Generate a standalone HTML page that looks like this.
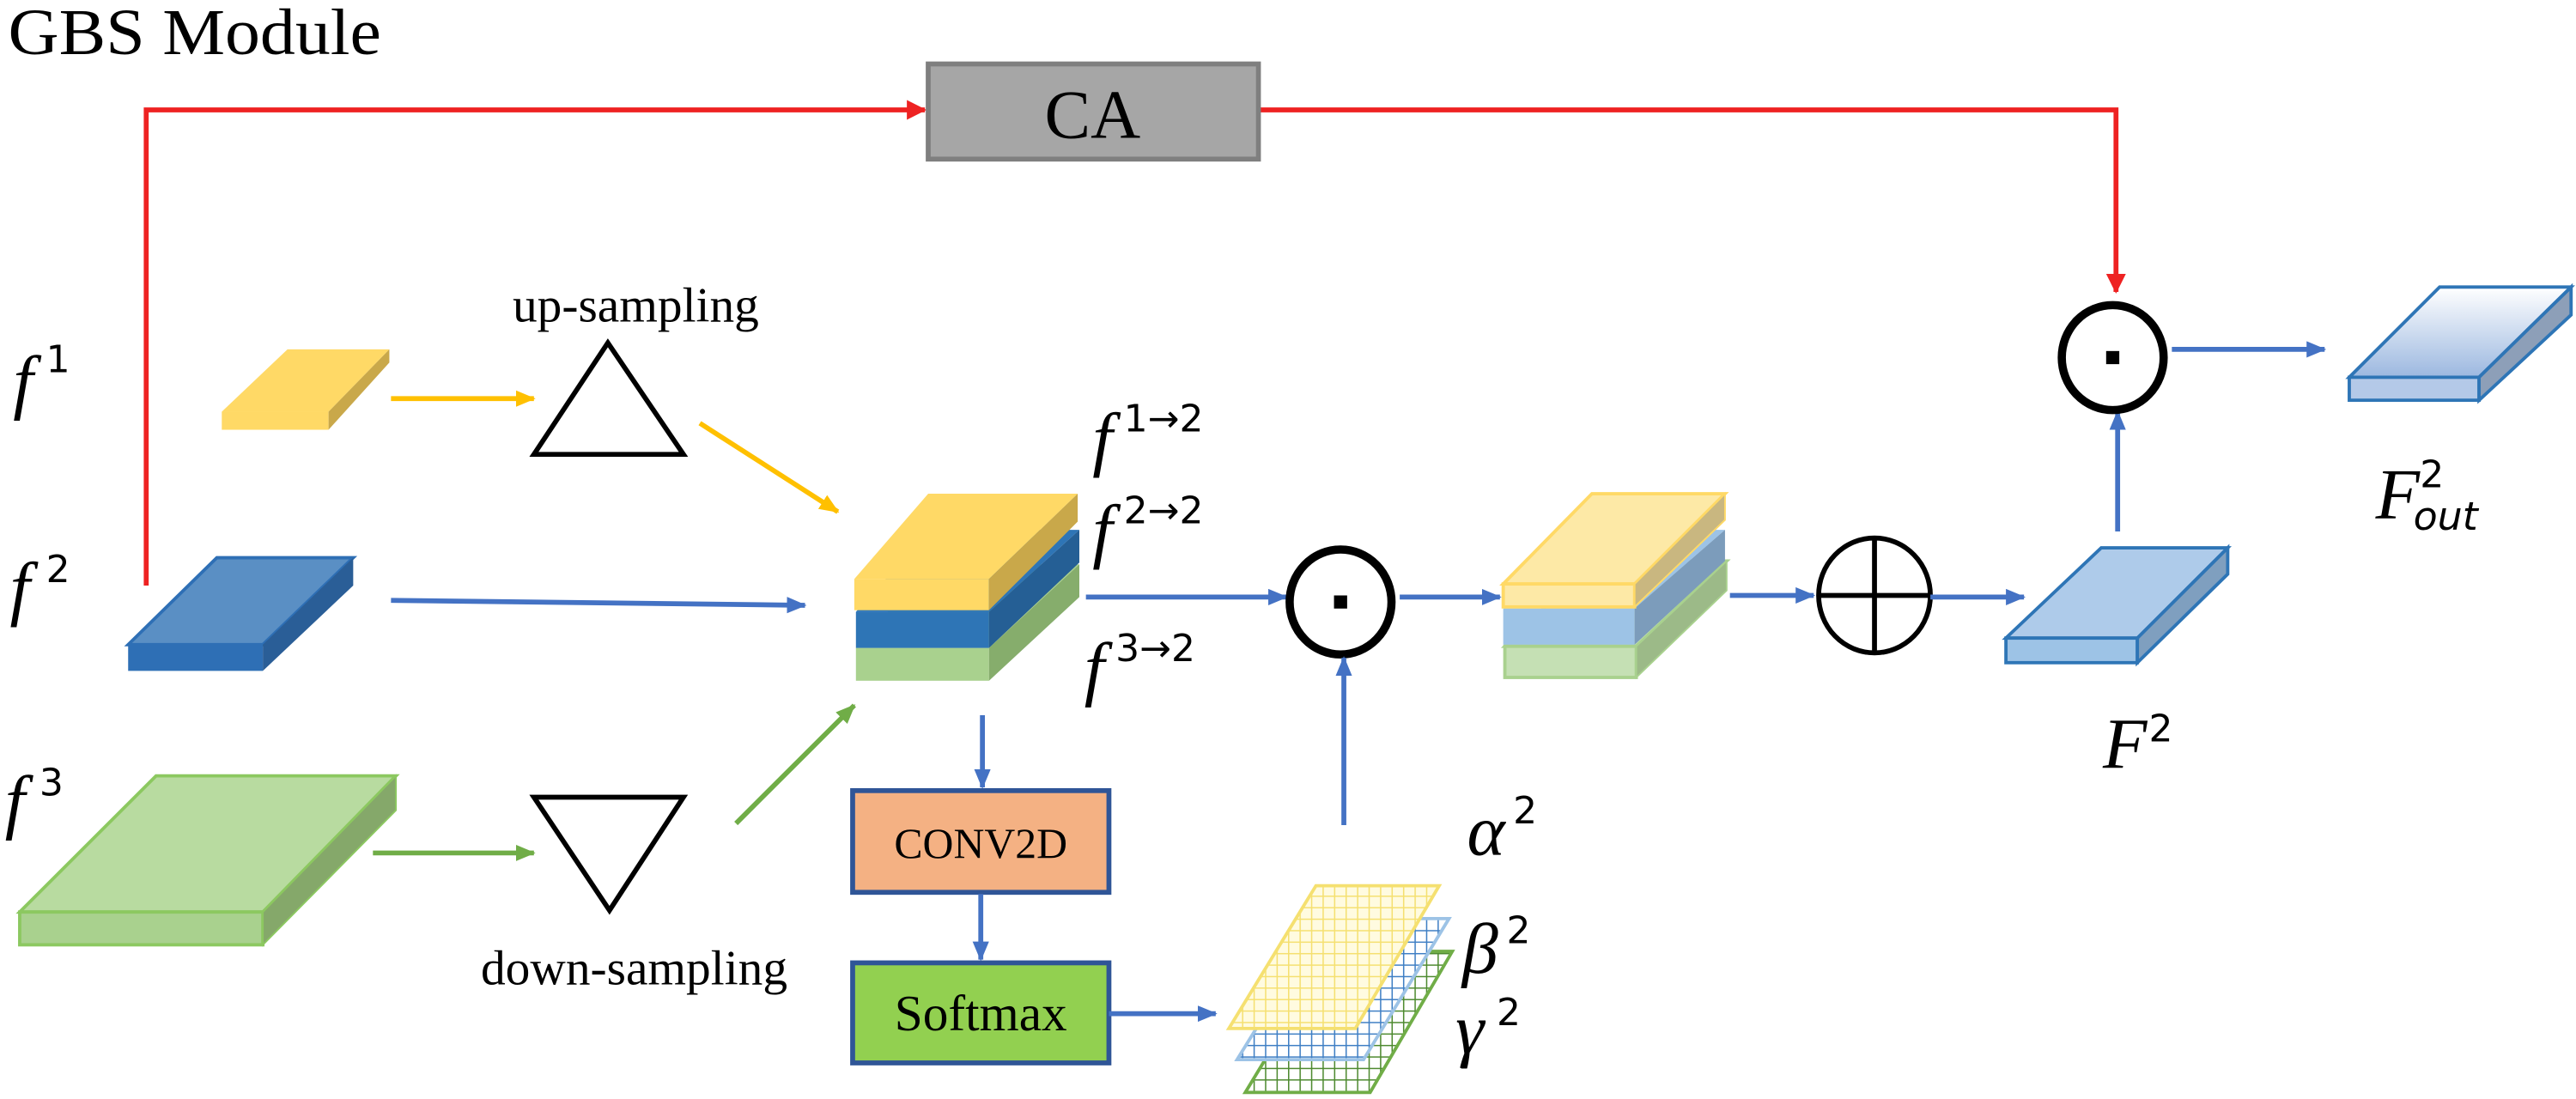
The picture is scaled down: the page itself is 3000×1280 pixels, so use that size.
<!DOCTYPE html>
<html><head><meta charset="utf-8"><style>html,body{margin:0;padding:0;background:#fff}svg{display:block}
.ser{font-family:"Liberation Serif",serif}
.it{font-family:"Liberation Serif",serif;font-style:italic}
.sup{font-family:"DejaVu Sans",sans-serif}
</style></head>
<body>
<svg width="3000" height="1280" viewBox="0 0 1568 670" preserveAspectRatio="none" xmlns="http://www.w3.org/2000/svg">
<defs>
<marker id="ab" markerWidth="12" markerHeight="10" refX="11" refY="5" orient="auto" markerUnits="userSpaceOnUse"><path d="M0,0 L12,5 L0,10z" fill="#4472c4"/></marker>
<marker id="ar" markerWidth="12" markerHeight="12" refX="11" refY="6" orient="auto" markerUnits="userSpaceOnUse"><path d="M0,0 L12,6 L0,12z" fill="#ee2222"/></marker>
<marker id="ay" markerWidth="12" markerHeight="10" refX="11" refY="5" orient="auto" markerUnits="userSpaceOnUse"><path d="M0,0 L12,5 L0,10z" fill="#ffc000"/></marker>
<marker id="ag" markerWidth="12" markerHeight="10" refX="11" refY="5" orient="auto" markerUnits="userSpaceOnUse"><path d="M0,0 L12,5 L0,10z" fill="#70ad47"/></marker>
<pattern id="gy" width="7" height="7" patternUnits="userSpaceOnUse"><rect width="7" height="7" fill="#fffbe0"/><path d="M0,0H7M0,0V7" stroke="#f5e070" stroke-width="1.6"/></pattern>
<pattern id="gb" width="7" height="7" patternUnits="userSpaceOnUse"><rect width="7" height="7" fill="#fff"/><path d="M0,0H7M0,0V7" stroke="#3f7fc4" stroke-width="1.6"/></pattern>
<pattern id="gg" width="7" height="7" patternUnits="userSpaceOnUse"><rect width="7" height="7" fill="#fff"/><path d="M0,0H7M0,0V7" stroke="#4e8a30" stroke-width="1.6"/></pattern>
<linearGradient id="fo" x1="0" y1="0" x2="0" y2="1"><stop offset="0" stop-color="#ffffff"/><stop offset="1" stop-color="#9cb8e0"/></linearGradient>
</defs>
<text x="5" y="33" class="ser" font-size="40" textLength="227" lengthAdjust="spacingAndGlyphs">GBS Module</text>
<polyline points="89,357 89,67 563,67" fill="none" stroke="#ee2222" stroke-width="3" marker-end="url(#ar)"/>
<polyline points="766,67 1288,67 1288,178" fill="none" stroke="#ee2222" stroke-width="3" marker-end="url(#ar)"/>
<rect x="565" y="39" width="201" height="58" fill="#a6a6a6" stroke="#7f7f7f" stroke-width="3"/>
<text x="665" y="84" class="ser" font-size="42" text-anchor="middle">CA</text>

<g class="it" font-size="44">
<text x="8" y="247">f</text><text x="6" y="373">f</text><text x="3" y="503">f</text>
<text x="665" y="282">f</text><text x="665" y="338">f</text><text x="660" y="422">f</text>
<text x="893" y="521">α</text><text x="890" y="593">β</text><text x="886" y="642">γ</text>
<text x="1280" y="468">F</text><text x="1446" y="316">F</text>
</g>
<g class="sup" font-size="23">
<text x="28" y="227">1</text><text x="28" y="355">2</text><text x="24" y="485">3</text>
<text x="684" y="263">1→2</text><text x="684" y="319">2→2</text><text x="679" y="403">3→2</text>
<text x="921" y="502">2</text><text x="917" y="575">2</text><text x="911" y="625">2</text>
<text x="1308" y="452">2</text><text x="1473" y="297">2</text>
<text x="1469" y="323" font-style="italic" font-size="24">out</text>
</g>
<text x="387" y="196" class="ser" font-size="30" text-anchor="middle">up-sampling</text>
<text x="386" y="600" class="ser" font-size="30" text-anchor="middle">down-sampling</text>

<polygon points="135,251 175,213 237,213 200,251" fill="#ffd966"/>
<rect x="135" y="251" width="65" height="11" fill="#ffd966"/>
<polygon points="200,251 237,213 237,221 200,262" fill="#c9a84a"/>
<line x1="238" y1="243" x2="325" y2="243" stroke="#ffc000" stroke-width="3" marker-end="url(#ay)"/>
<polygon points="325,277 370,209 416,277" fill="none" stroke="#000" stroke-width="3"/>
<line x1="426" y1="258" x2="510" y2="312" stroke="#ffc000" stroke-width="3" marker-end="url(#ay)"/>

<polygon points="78,393 132,340 215,340 160,393" fill="#5a8fc4" stroke="#2e6fb5" stroke-width="2"/>
<rect x="78" y="393" width="82" height="16" fill="#2e6fb5"/>
<polygon points="160,393 215,340 215,357 160,409" fill="#2a5e97"/>
<line x1="238" y1="366" x2="490" y2="369" stroke="#4472c4" stroke-width="3" marker-end="url(#ab)"/>

<polygon points="12,556 95,473 241,473 160,556" fill="#b8dba0" stroke="#8cc860" stroke-width="2"/>
<rect x="12" y="556" width="148" height="20" fill="#a9d18e" stroke="#8cc860" stroke-width="2"/>
<polygon points="160,556 241,473 241,494 160,576" fill="#85a86a" stroke="#8cc860" stroke-width="1"/>
<line x1="227" y1="520" x2="325" y2="520" stroke="#70ad47" stroke-width="3" marker-end="url(#ag)"/>
<polygon points="325,486 416,486 371,555" fill="none" stroke="#000" stroke-width="3"/>
<line x1="448" y1="502" x2="520" y2="430" stroke="#70ad47" stroke-width="3" marker-end="url(#ag)"/>

<polygon points="521,395 566,344 657,344 602,395" fill="#a9d18e"/>
<rect x="521" y="395" width="81" height="20" fill="#a9d18e"/>
<polygon points="602,395 657,344 657,364 602,415" fill="#86ad6c"/>
<polygon points="521,373 566,323 657,323 602,373" fill="#2e75b6"/>
<rect x="521" y="373" width="81" height="22" fill="#2e75b6"/>
<polygon points="602,373 657,323 657,343 602,395" fill="#255f95"/>
<polygon points="520,353 565,301 656,301 602,353" fill="#ffd966"/>
<rect x="520" y="353" width="82" height="19" fill="#ffd966"/>
<polygon points="602,353 656,301 656,318 602,372" fill="#c9a84a"/>
<line x1="661" y1="364" x2="783" y2="364" stroke="#4472c4" stroke-width="3" marker-end="url(#ab)"/>
<line x1="598" y1="436" x2="598" y2="480" stroke="#4472c4" stroke-width="3" marker-end="url(#ab)"/>
<rect x="519" y="482" width="156" height="62" fill="#f4b183" stroke="#2f5597" stroke-width="3"/>
<text x="597" y="523" class="ser" font-size="26" text-anchor="middle">CONV2D</text>
<line x1="597" y1="545" x2="597" y2="585" stroke="#4472c4" stroke-width="3" marker-end="url(#ab)"/>
<rect x="519" y="587" width="156" height="61" fill="#92d050" stroke="#2f5597" stroke-width="3"/>
<text x="597" y="628" class="ser" font-size="31" text-anchor="middle">Softmax</text>
<line x1="675" y1="618" x2="740" y2="618" stroke="#4472c4" stroke-width="3" marker-end="url(#ab)"/>

<polygon points="758,666 810,580 884,580 834,666" fill="url(#gg)" stroke="#70ad47" stroke-width="2"/>
<polygon points="753,646 806,560 882,560 830,646" fill="url(#gb)" stroke="#9dc3e6" stroke-width="2"/>
<polygon points="748,627 801,540 876,540 825,627" fill="url(#gy)" stroke="#f5e070" stroke-width="2"/>

<ellipse cx="816" cy="367" rx="31" ry="32" fill="#fff" stroke="#000" stroke-width="5"/>
<rect x="812" y="363" width="8" height="8" fill="#000"/>
<line x1="818" y1="503" x2="818" y2="401" stroke="#4472c4" stroke-width="3" marker-end="url(#ab)"/>
<line x1="852" y1="364" x2="913" y2="364" stroke="#4472c4" stroke-width="3" marker-end="url(#ab)"/>

<polygon points="916,394 969,342 1051,342 996,394" fill="#c5e0b4" stroke="#a9d18e" stroke-width="2"/>
<rect x="916" y="394" width="80" height="19" fill="#c5e0b4" stroke="#a9d18e" stroke-width="2"/>
<polygon points="996,394 1051,342 1051,360 996,413" fill="#9cba88" stroke="#a9d18e" stroke-width="1"/>
<polygon points="915,371 969,323 1050,323 995,371" fill="#9dc3e6"/>
<rect x="915" y="371" width="80" height="22" fill="#9dc3e6"/>
<polygon points="995,371 1050,323 1050,342 995,393" fill="#7c9cbb"/>
<polygon points="915,356 969,301 1050,301 995,356" fill="#fde9a6" stroke="#ffd966" stroke-width="2"/>
<rect x="915" y="356" width="80" height="14" fill="#fde9a6" stroke="#ffd966" stroke-width="2"/>
<polygon points="995,356 1050,301 1050,317 995,370" fill="#c9b780" stroke="#ffd966" stroke-width="1"/>
<line x1="1053" y1="363" x2="1104" y2="363" stroke="#4472c4" stroke-width="3" marker-end="url(#ab)"/>

<ellipse cx="1141" cy="363" rx="34" ry="35" fill="#fff" stroke="#000" stroke-width="3"/>
<line x1="1107" y1="363" x2="1175" y2="363" stroke="#000" stroke-width="3"/>
<line x1="1141" y1="328" x2="1141" y2="398" stroke="#000" stroke-width="3"/>
<line x1="1175" y1="364" x2="1232" y2="364" stroke="#4472c4" stroke-width="3" marker-end="url(#ab)"/>

<polygon points="1221,389 1279,334 1356,334 1301,389" fill="#aecbea" stroke="#2e75b6" stroke-width="2"/>
<rect x="1221" y="389" width="80" height="15" fill="#9dc3e6" stroke="#2e75b6" stroke-width="2"/>
<polygon points="1301,389 1356,334 1356,350 1301,404" fill="#7f9fbf" stroke="#2e75b6" stroke-width="2"/>
<line x1="1289" y1="324" x2="1289" y2="251" stroke="#4472c4" stroke-width="3" marker-end="url(#ab)"/>

<ellipse cx="1286" cy="218" rx="31" ry="32" fill="#fff" stroke="#000" stroke-width="5"/>
<rect x="1282" y="214" width="8" height="8" fill="#000"/>
<line x1="1322" y1="213" x2="1415" y2="213" stroke="#4472c4" stroke-width="3" marker-end="url(#ab)"/>

<polygon points="1430,230 1485,175 1565,175 1509,230" fill="url(#fo)" stroke="#2e75b6" stroke-width="2"/>
<rect x="1430" y="230" width="79" height="14" fill="#b4c9e8" stroke="#2e75b6" stroke-width="2"/>
<polygon points="1509,230 1565,175 1565,192 1509,244" fill="#8d9fb8" stroke="#2e75b6" stroke-width="2"/>
</svg>
</body></html>
